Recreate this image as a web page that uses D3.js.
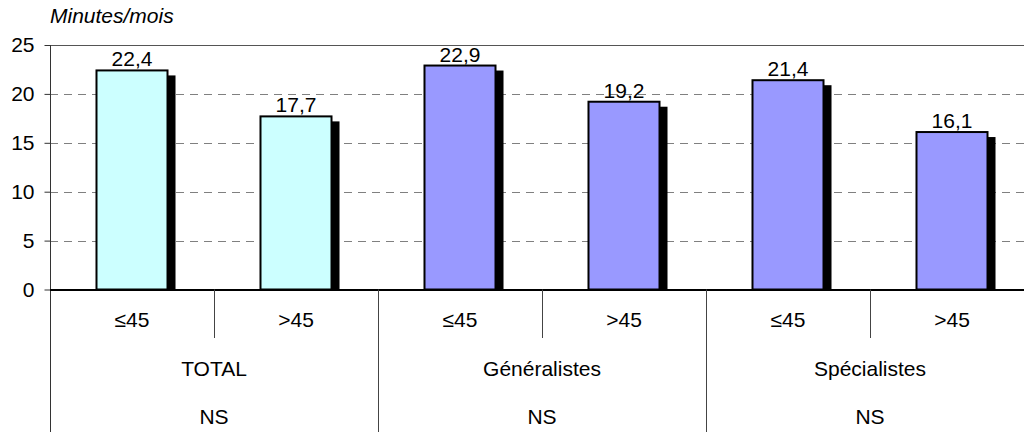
<!DOCTYPE html>
<meta charset="utf-8">
<script src="https://d3js.org/d3.v7.min.js"></script>
<style>
body { margin: 0; background: white; }
text { font-family: "Liberation Sans", Arial, sans-serif; fill: black; }
</style>
<div id="chart"></div>
<script>
// data
var groups = ["TOTAL", "Généralistes", "Spécialistes"];
var ages = ["≤45", ">45"];
var values = [22.4, 17.7, 22.9, 19.2, 21.4, 16.1];
var signif = ["NS", "NS", "NS"];
var colors = ["#CCFFFF", "#9999FF", "#9999FF"];
var yTicks = [0, 5, 10, 15, 20, 25];

var width = 1024, height = 432;
var left = 50, right = 1034, top0 = 45, bottom0 = 289.5;
var fs = "21px";

var svg = d3.select("#chart").append("svg")
  .attr("width", width).attr("height", height);

// six slots: group x age
var cats = [];
groups.forEach(function(g, gi) {
  ages.forEach(function(a, ai) {
    cats.push({key: g + "|" + a, group: g, gi: gi, age: a, value: values[gi * 2 + ai]});
  });
});

var x = d3.scaleBand()
  .domain(cats.map(function(d) { return d.key; }))
  .range([left, right])
  .paddingInner(0.567)
  .paddingOuter(0.2835);

var y = d3.scaleLinear().domain([0, 25]).range([bottom0, top0]);

var step = x.step();
var gap = (step - x.bandwidth()) / 2;
function slotLeft(key) { return Math.round(x(key) - gap) + 0.5; }

// gridlines
svg.append("g").selectAll("line")
  .data(yTicks.filter(function(t) { return t > 0 && t < 25; }))
  .enter().append("line")
    .attr("x1", left).attr("x2", width)
    .attr("y1", function(d) { return Math.round(y(d)) + 0.5; })
    .attr("y2", function(d) { return Math.round(y(d)) + 0.5; })
    .attr("stroke", "#808080")
    .attr("stroke-dasharray", "8,6");

// top border
svg.append("line")
  .attr("x1", left).attr("x2", width)
  .attr("y1", Math.round(y(25)) + 0.5).attr("y2", Math.round(y(25)) + 0.5)
  .attr("stroke", "#555");

// y axis
var yAxis = svg.append("g")
  .attr("transform", "translate(" + (left + 0.5) + ",0)")
  .call(d3.axisLeft(y).tickValues(yTicks).tickSize(6).tickPadding(10));
yAxis.select(".domain").remove();
yAxis.selectAll("line").attr("stroke", "#333");
yAxis.selectAll("text").style("font-size", fs).style("font-family", "Liberation Sans, Arial, sans-serif");

// shadows
svg.append("g").selectAll("rect")
  .data(cats).enter().append("rect")
    .attr("x", function(d) { return x(d.key) + 8; })
    .attr("y", function(d) { return y(d.value) + 5; })
    .attr("width", x.bandwidth())
    .attr("height", function(d) { return bottom0 - y(d.value) - 5; })
    .attr("fill", "black");

// bars
svg.append("g").selectAll("rect")
  .data(cats).enter().append("rect")
    .attr("x", function(d) { return x(d.key); })
    .attr("y", function(d) { return y(d.value); })
    .attr("width", x.bandwidth())
    .attr("height", function(d) { return bottom0 - y(d.value); })
    .attr("fill", function(d) { return colors[d.gi]; })
    .attr("stroke", "black")
    .attr("stroke-width", 2);

// value labels
svg.append("g").selectAll("text")
  .data(cats).enter().append("text")
    .attr("x", function(d) { return x(d.key) + x.bandwidth() / 2; })
    .attr("y", function(d) { return y(d.value) - 4; })
    .attr("text-anchor", "middle")
    .style("font-size", fs)
    .text(function(d) { return d.value.toFixed(1).replace(".", ","); });

// y axis line (through the table)
svg.append("line")
  .attr("x1", left + 0.5).attr("x2", left + 0.5)
  .attr("y1", top0).attr("y2", height)
  .attr("stroke", "#333");

// x axis line
svg.append("line")
  .attr("x1", left).attr("x2", width)
  .attr("y1", bottom0 + 0.5).attr("y2", bottom0 + 0.5)
  .attr("stroke", "black").attr("stroke-width", 2);

// table: separators between ages inside groups
svg.append("g").selectAll("line")
  .data(groups).enter().append("line")
    .attr("x1", function(d) { return slotLeft(d + "|" + ages[1]); })
    .attr("x2", function(d) { return slotLeft(d + "|" + ages[1]); })
    .attr("y1", bottom0).attr("y2", 338)
    .attr("stroke", "#444");

// table: separators between groups
svg.append("g").selectAll("line")
  .data(groups.slice(1)).enter().append("line")
    .attr("x1", function(d) { return slotLeft(d + "|" + ages[0]); })
    .attr("x2", function(d) { return slotLeft(d + "|" + ages[0]); })
    .attr("y1", bottom0).attr("y2", height)
    .attr("stroke", "#444");

function groupMid(g) {
  return (x(g + "|" + ages[0]) + x(g + "|" + ages[1]) + x.bandwidth()) / 2;
}

// age labels
svg.append("g").selectAll("text")
  .data(cats).enter().append("text")
    .attr("x", function(d) { return x(d.key) + x.bandwidth() / 2; })
    .attr("y", 327)
    .attr("text-anchor", "middle")
    .style("font-size", fs)
    .text(function(d) { return d.age; });

// group labels
svg.append("g").selectAll("text")
  .data(groups).enter().append("text")
    .attr("x", function(d) { return groupMid(d); })
    .attr("y", 376)
    .attr("text-anchor", "middle")
    .style("font-size", fs)
    .text(function(d) { return d; });

// significance labels
svg.append("g").selectAll("text")
  .data(signif).enter().append("text")
    .attr("x", function(d, i) { return groupMid(groups[i]); })
    .attr("y", 424)
    .attr("text-anchor", "middle")
    .style("font-size", fs)
    .text(function(d) { return d; });

// unit title
svg.append("text")
  .attr("x", 50).attr("y", 23)
  .style("font-size", fs)
  .style("font-style", "italic")
  .text("Minutes/mois");
</script>
